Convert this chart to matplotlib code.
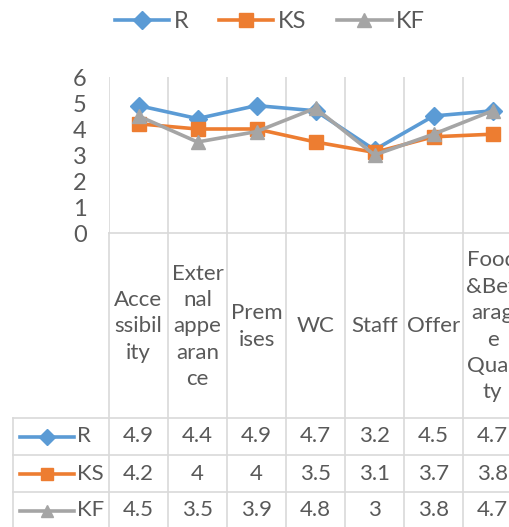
import matplotlib.pyplot as plt

plt.rcParams['font.family'] = ['Lato', 'DejaVu Sans']

# data
categories = ["Acce\nssibil\nity", "Exter\nnal\nappe\naran\nce", "Prem\nises", "WC",
              "Staff", "Offer", "Food\n&Bev\narag\ne\nQuali\nty"]
series_names = ["R", "KS", "KF"]
R = [4.9, 4.4, 4.9, 4.7, 3.2, 4.5, 4.7]
KS = [4.2, 4, 4, 3.5, 3.1, 3.7, 3.8]
KF = [4.5, 3.5, 3.9, 4.8, 3, 3.8, 4.7]
yticks = [0, 1, 2, 3, 4, 5, 6]

colors = ['#5B9BD5', '#ED7D31', '#A5A5A5']
markers = ['D', 's', '^']
msizes = [9, 10, 10]
txt = '#595959'
grid = '#D9D9D9'
fs = 16

W, H = 509, 527
col = 59
left = 109

def box(x0, y0, x1, y1):
    return [x0 / W, 1 - y1 / H, (x1 - x0) / W, (y1 - y0) / H]

def dx(p):
    # pixel x -> category units
    return (p - left) / col - 0.5

fig = plt.figure(figsize=(W / 100, H / 100), dpi=100)

ax = fig.add_axes(box(left, 77, left + 7 * col, 233))
ax.set_xlim(-0.5, 6.5)
ax.set_ylim(0, 6)
n = len(categories)
for i in range(n + 1):
    ax.axvline(i - 0.5, color=grid, lw=1.2, zorder=0)
lines = []
for vals, c, m, ms, name in zip([R, KS, KF], colors, markers, msizes, series_names):
    l, = ax.plot(range(n), vals, color=c, lw=2.6, marker=m, ms=ms, label=name)
    lines.append(l)
for s in ['top', 'right', 'left']:
    ax.spines[s].set_visible(False)
ax.spines['bottom'].set_color(grid)
ax.spines['bottom'].set_linewidth(1.2)
ax.set_xticks([])
ax.set_yticks(yticks)
ax.tick_params(axis='y', length=0, pad=16, labelsize=17, labelcolor=txt)

# data table under the chart
tax = fig.add_axes(box(left, 233, left + 7 * col, 527))
tax.set_xlim(-0.5, 6.5)
tax.set_ylim(527, 233)
tax.axis('off')
rows = [418, 455, 492, 529]
for i in range(n + 1):
    tax.plot([i - 0.5, i - 0.5], [233, 529], color=grid, lw=1.2, clip_on=False)
tax.plot([dx(13), dx(13)], [418, 529], color=grid, lw=1.2, clip_on=False)
for r in rows[:-1]:
    tax.plot([dx(13), 6.5], [r, r], color=grid, lw=1.2, clip_on=False)
for i, lab in enumerate(categories):
    tax.text(i, (233 + 418) / 2 + 1, lab, ha='center', va='center', fontsize=fs,
             color=txt, linespacing=1.4, clip_on=False)
for k, (vals, c, m, ms, name) in enumerate(zip([R, KS, KF], colors, markers, msizes, series_names)):
    yc = (rows[k] + rows[k + 1]) / 2
    tax.plot([dx(20), dx(74)], [yc, yc], color=c, lw=2.6, clip_on=False)
    tax.plot([dx(47)], [yc], color=c, marker=m, ms=ms - 1, clip_on=False)
    tax.text(dx(77), yc, name, ha='left', va='center', fontsize=fs, color=txt)
    for i, v in enumerate(vals):
        tax.text(i, yc, f'{v:g}', ha='center', va='center', fontsize=fs, color=txt)

fig.legend(handles=lines, loc='center', bbox_to_anchor=(270 / W, 1 - 22 / H), ncol=3,
           frameon=False, fontsize=17, labelcolor=txt, handlelength=2.3,
           handletextpad=0.2, columnspacing=1.3)

fig.savefig('out.png', dpi=100)
